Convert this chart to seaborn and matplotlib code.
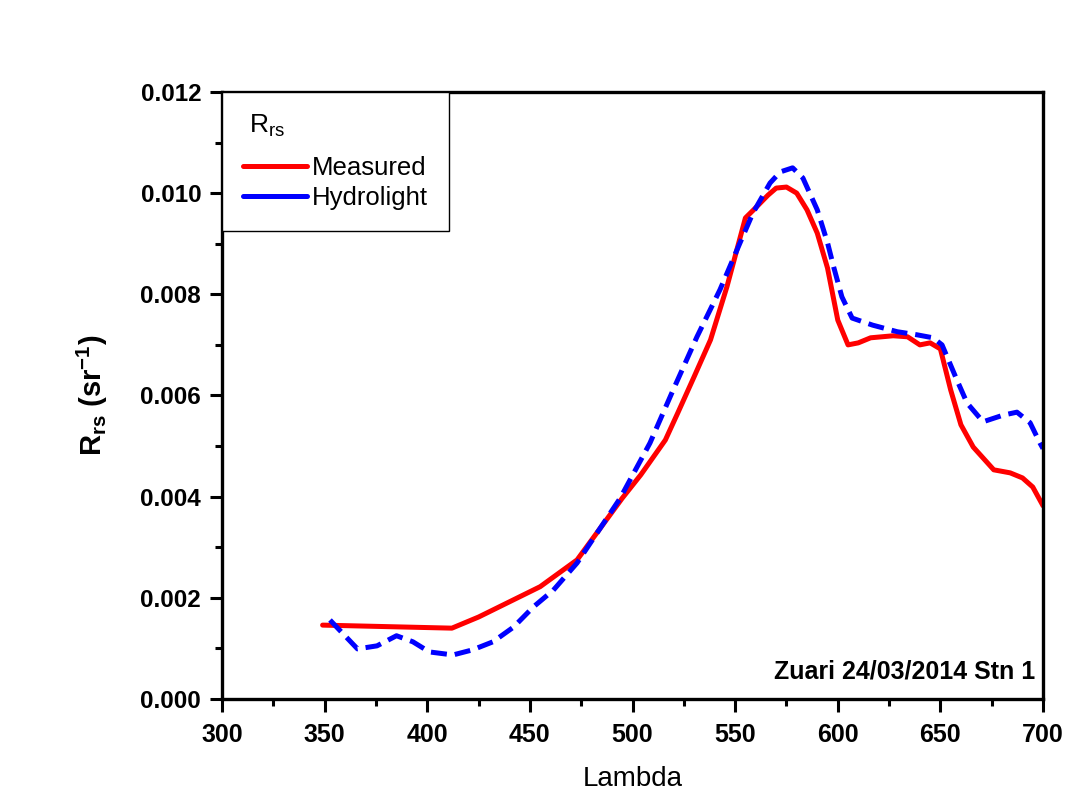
import numpy as np
import pandas as pd
import matplotlib
matplotlib.use("Agg")
import matplotlib.pyplot as plt
from matplotlib.ticker import MultipleLocator, FormatStrFormatter
from matplotlib.lines import Line2D
import seaborn as sns

# Measured Rrs
meas_wl = [349, 412, 425, 440, 455, 473, 495, 504, 516, 522, 530, 538, 546, 555, 559, 566, 570, 575,
           580, 585, 590, 595, 600, 605, 610, 616, 627, 634, 640, 645, 650, 655, 660, 666,
           676, 684, 690, 695, 700]
meas_val = [1.46e-3, 1.40e-3, 1.62e-3, 1.92e-3, 2.22e-3, 2.75e-3, 3.97e-3, 4.43e-3, 5.12e-3, 5.65e-3, 6.37e-3,
            7.10e-3, 8.15e-3, 9.51e-3, 9.67e-3, 9.96e-3, 10.10e-3, 10.12e-3, 10.00e-3,
            9.67e-3, 9.21e-3, 8.52e-3, 7.49e-3, 7.00e-3, 7.04e-3, 7.14e-3, 7.18e-3, 7.16e-3,
            7.00e-3, 7.04e-3, 6.92e-3, 6.11e-3, 5.42e-3, 4.98e-3, 4.53e-3, 4.47e-3, 4.37e-3,
            4.19e-3, 3.82e-3]

# Hydrolight Rrs
hydro_wl = [352.6, 366, 375.5, 385, 393, 401, 412.5, 422, 432, 442, 451.7, 461.4, 473, 494,
            508.5, 519.8, 531.4, 542.6, 552.4, 558.7, 567, 572, 578, 583, 590, 595, 598, 602,
            607, 617, 629, 638.5, 646.4, 650.8, 658, 663, 670.8, 680.5, 687.3, 693.7, 698.5, 700]
hydro_val = [1.56e-3, 0.99e-3, 1.05e-3, 1.25e-3, 1.13e-3, 0.93e-3, 0.87e-3, 0.97e-3, 1.13e-3,
             1.42e-3, 1.82e-3, 2.15e-3, 2.69e-3, 3.97e-3, 5.06e-3, 6.11e-3, 7.16e-3, 8.09e-3,
             9.02e-3, 9.61e-3, 10.20e-3, 10.42e-3, 10.50e-3, 10.30e-3, 9.67e-3, 9.02e-3,
             8.54e-3, 7.95e-3, 7.53e-3, 7.39e-3, 7.26e-3, 7.20e-3, 7.14e-3, 7.00e-3, 6.31e-3,
             5.85e-3, 5.48e-3, 5.61e-3, 5.67e-3, 5.46e-3, 5.06e-3, 4.95e-3]

series_names = ["Measured", "Hydrolight"]
annotation = "Zuari 24/03/2014 Stn 1"

sns.set_style("ticks")
plt.rcParams['font.family'] = ['Liberation Sans', 'DejaVu Sans']
plt.rcParams['mathtext.fontset'] = 'custom'
plt.rcParams['mathtext.rm'] = 'Liberation Sans'
plt.rcParams['mathtext.bf'] = 'Liberation Sans:bold'
for k in ['text.color', 'axes.labelcolor', 'xtick.color', 'ytick.color', 'axes.edgecolor']:
    plt.rcParams[k] = 'black'

df_m = pd.DataFrame({"wl": meas_wl, "val": meas_val})
df_h = pd.DataFrame({"wl": hydro_wl, "val": hydro_val})

fig = plt.figure(figsize=(10.69, 7.99), dpi=100)
ax = fig.add_axes([0.2077, 0.1252, 0.9757 - 0.2077, 0.8849 - 0.1252])

sns.lineplot(data=df_m, x="wl", y="val", ax=ax, color="#ff0000", linewidth=3.6,
             sort=False, estimator=None)
sns.lineplot(data=df_h, x="wl", y="val", ax=ax, color="#0000ff", linewidth=3.6,
             linestyle=(0, (3.2, 1.6)), sort=False, estimator=None)

ax.set_xlim(300, 700)
ax.set_ylim(0, 0.012)
ax.xaxis.set_major_locator(MultipleLocator(50))
ax.xaxis.set_minor_locator(MultipleLocator(25))
ax.yaxis.set_major_locator(MultipleLocator(0.002))
ax.yaxis.set_minor_locator(MultipleLocator(0.001))
ax.yaxis.set_major_formatter(FormatStrFormatter('%.3f'))

for s in ax.spines.values():
    s.set_linewidth(2.4)
    s.set_color('black')
ax.tick_params(axis='both', which='major', direction='out', length=9, width=2.2, pad=6)
ax.tick_params(axis='both', which='minor', direction='out', length=5, width=2.2)
ax.tick_params(top=False, right=False, which='both')
ax.tick_params(axis='y', labelsize=17.5)
ax.tick_params(axis='x', labelsize=18, pad=8)

for lab in ax.get_yticklabels() + ax.get_xticklabels():
    lab.set_fontweight('bold')

ax.set_xlabel("Lambda", fontsize=20, labelpad=14)
ax.set_ylabel(r"$\mathbf{R_{rs}}$ (sr$^{\mathbf{-1}}$)", fontsize=21, fontweight='bold', labelpad=22)

ax.text(0.99, 0.045, annotation, transform=ax.transAxes, ha='right', va='center',
        fontsize=18, fontweight='bold')

handles = [Line2D([], [], color="#ff0000", lw=3.6), Line2D([], [], color="#0000ff", lw=3.6)]
leg = ax.legend(handles, series_names, title=r"R$_{\mathrm{rs}}$", loc='upper left',
                bbox_to_anchor=(0.0, 1.0), fontsize=18.5, title_fontsize=19,
                frameon=True, fancybox=False, framealpha=1, edgecolor='black',
                borderaxespad=0, handlelength=2.5, handletextpad=0.2,
                labelspacing=0.25, borderpad=0.8)
leg.get_frame().set_linewidth(1.0)
leg._legend_box.align = 'left'
leg._legend_box.sep = 12
leg.get_title().set_position((6, 0))

fig.savefig("out.png", dpi=100, facecolor='white')
